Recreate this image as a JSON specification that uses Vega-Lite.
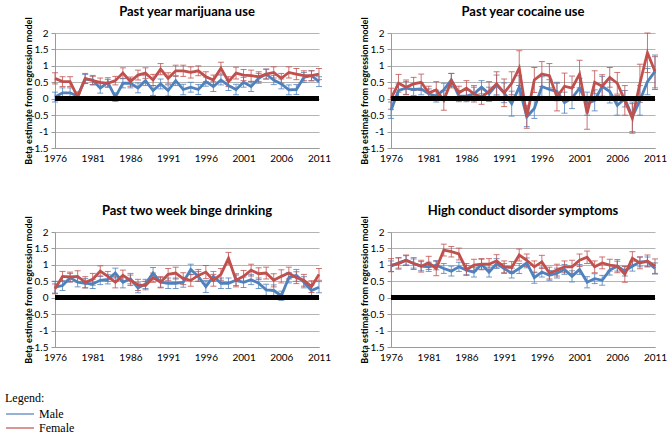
{
"$schema": "https://vega.github.io/schema/vega-lite/v6.json",
"background": "white",
"padding": {"left": 5, "top": 5, "right": 5, "bottom": 5},
"bounds": "flush",
"config": {
 "view": {"stroke": null},
 "font": "Lato",
 "axis": {"labelFont": "Lato", "labelFontSize": 10, "labelColor": "#000", "titleFont": "Lato", "titleFontSize": 9, "titleFontWeight": "bold", "titleColor": "#000", "domainColor": "#9a9a9a", "tickColor": "#9a9a9a", "gridColor": "#b4b4b4"}
},
"data": {"values": [
{"p":"mj","s":"Male","y":1976,"b":0.05,"lo":-0.1,"hi":0.2},
{"p":"mj","s":"Male","y":1977,"b":0.18,"lo":0.03,"hi":0.33},
{"p":"mj","s":"Male","y":1978,"b":0.18,"lo":0.03,"hi":0.33},
{"p":"mj","s":"Male","y":1979,"b":0.08,"lo":-0.05,"hi":0.21},
{"p":"mj","s":"Male","y":1980,"b":0.6,"lo":0.46,"hi":0.74},
{"p":"mj","s":"Male","y":1981,"b":0.57,"lo":0.43,"hi":0.71},
{"p":"mj","s":"Male","y":1982,"b":0.32,"lo":0.17,"hi":0.47},
{"p":"mj","s":"Male","y":1983,"b":0.5,"lo":0.36,"hi":0.64},
{"p":"mj","s":"Male","y":1984,"b":0.05,"lo":-0.08,"hi":0.18},
{"p":"mj","s":"Male","y":1985,"b":0.47,"lo":0.33,"hi":0.61},
{"p":"mj","s":"Male","y":1986,"b":0.47,"lo":0.33,"hi":0.61},
{"p":"mj","s":"Male","y":1987,"b":0.33,"lo":0.18,"hi":0.48},
{"p":"mj","s":"Male","y":1988,"b":0.55,"lo":0.4,"hi":0.7},
{"p":"mj","s":"Male","y":1989,"b":0.25,"lo":0.1,"hi":0.4},
{"p":"mj","s":"Male","y":1990,"b":0.45,"lo":0.3,"hi":0.6},
{"p":"mj","s":"Male","y":1991,"b":0.25,"lo":0.08,"hi":0.42},
{"p":"mj","s":"Male","y":1992,"b":0.55,"lo":0.4,"hi":0.7},
{"p":"mj","s":"Male","y":1993,"b":0.28,"lo":0.12,"hi":0.44},
{"p":"mj","s":"Male","y":1994,"b":0.35,"lo":0.2,"hi":0.5},
{"p":"mj","s":"Male","y":1995,"b":0.28,"lo":0.13,"hi":0.43},
{"p":"mj","s":"Male","y":1996,"b":0.52,"lo":0.38,"hi":0.66},
{"p":"mj","s":"Male","y":1997,"b":0.37,"lo":0.22,"hi":0.52},
{"p":"mj","s":"Male","y":1998,"b":0.57,"lo":0.42,"hi":0.72},
{"p":"mj","s":"Male","y":1999,"b":0.4,"lo":0.25,"hi":0.55},
{"p":"mj","s":"Male","y":2000,"b":0.28,"lo":0.12,"hi":0.44},
{"p":"mj","s":"Male","y":2001,"b":0.5,"lo":0.35,"hi":0.65},
{"p":"mj","s":"Male","y":2002,"b":0.37,"lo":0.22,"hi":0.52},
{"p":"mj","s":"Male","y":2003,"b":0.62,"lo":0.47,"hi":0.77},
{"p":"mj","s":"Male","y":2004,"b":0.75,"lo":0.6,"hi":0.9},
{"p":"mj","s":"Male","y":2005,"b":0.57,"lo":0.43,"hi":0.71},
{"p":"mj","s":"Male","y":2006,"b":0.45,"lo":0.3,"hi":0.6},
{"p":"mj","s":"Male","y":2007,"b":0.27,"lo":0.12,"hi":0.42},
{"p":"mj","s":"Male","y":2008,"b":0.28,"lo":0.13,"hi":0.43},
{"p":"mj","s":"Male","y":2009,"b":0.65,"lo":0.5,"hi":0.8},
{"p":"mj","s":"Male","y":2010,"b":0.7,"lo":0.55,"hi":0.85},
{"p":"mj","s":"Male","y":2011,"b":0.52,"lo":0.37,"hi":0.67},
{"p":"mj","s":"Female","y":1976,"b":0.62,"lo":0.45,"hi":0.79},
{"p":"mj","s":"Female","y":1977,"b":0.52,"lo":0.37,"hi":0.67},
{"p":"mj","s":"Female","y":1978,"b":0.52,"lo":0.37,"hi":0.67},
{"p":"mj","s":"Female","y":1979,"b":0.05,"lo":-0.05,"hi":0.15},
{"p":"mj","s":"Female","y":1980,"b":0.62,"lo":0.47,"hi":0.77},
{"p":"mj","s":"Female","y":1981,"b":0.55,"lo":0.42,"hi":0.68},
{"p":"mj","s":"Female","y":1982,"b":0.5,"lo":0.37,"hi":0.63},
{"p":"mj","s":"Female","y":1983,"b":0.47,"lo":0.35,"hi":0.59},
{"p":"mj","s":"Female","y":1984,"b":0.55,"lo":0.42,"hi":0.68},
{"p":"mj","s":"Female","y":1985,"b":0.78,"lo":0.62,"hi":0.94},
{"p":"mj","s":"Female","y":1986,"b":0.52,"lo":0.38,"hi":0.66},
{"p":"mj","s":"Female","y":1987,"b":0.72,"lo":0.57,"hi":0.87},
{"p":"mj","s":"Female","y":1988,"b":0.78,"lo":0.62,"hi":0.94},
{"p":"mj","s":"Female","y":1989,"b":0.57,"lo":0.4,"hi":0.74},
{"p":"mj","s":"Female","y":1990,"b":0.9,"lo":0.73,"hi":1.07},
{"p":"mj","s":"Female","y":1991,"b":0.62,"lo":0.45,"hi":0.79},
{"p":"mj","s":"Female","y":1992,"b":0.85,"lo":0.68,"hi":1.02},
{"p":"mj","s":"Female","y":1993,"b":0.85,"lo":0.68,"hi":1.02},
{"p":"mj","s":"Female","y":1994,"b":0.8,"lo":0.63,"hi":0.97},
{"p":"mj","s":"Female","y":1995,"b":0.85,"lo":0.7,"hi":1.0},
{"p":"mj","s":"Female","y":1996,"b":0.67,"lo":0.52,"hi":0.82},
{"p":"mj","s":"Female","y":1997,"b":0.57,"lo":0.42,"hi":0.72},
{"p":"mj","s":"Female","y":1998,"b":0.93,"lo":0.75,"hi":1.11},
{"p":"mj","s":"Female","y":1999,"b":0.52,"lo":0.37,"hi":0.67},
{"p":"mj","s":"Female","y":2000,"b":0.78,"lo":0.6,"hi":0.96},
{"p":"mj","s":"Female","y":2001,"b":0.72,"lo":0.55,"hi":0.89},
{"p":"mj","s":"Female","y":2002,"b":0.7,"lo":0.53,"hi":0.87},
{"p":"mj","s":"Female","y":2003,"b":0.67,"lo":0.52,"hi":0.82},
{"p":"mj","s":"Female","y":2004,"b":0.75,"lo":0.6,"hi":0.9},
{"p":"mj","s":"Female","y":2005,"b":0.8,"lo":0.63,"hi":0.97},
{"p":"mj","s":"Female","y":2006,"b":0.62,"lo":0.47,"hi":0.77},
{"p":"mj","s":"Female","y":2007,"b":0.8,"lo":0.63,"hi":0.97},
{"p":"mj","s":"Female","y":2008,"b":0.75,"lo":0.58,"hi":0.92},
{"p":"mj","s":"Female","y":2009,"b":0.7,"lo":0.55,"hi":0.85},
{"p":"mj","s":"Female","y":2010,"b":0.7,"lo":0.55,"hi":0.85},
{"p":"mj","s":"Female","y":2011,"b":0.75,"lo":0.58,"hi":0.92},
{"p":"co","s":"Male","y":1976,"b":-0.35,"lo":-0.6,"hi":-0.1},
{"p":"co","s":"Male","y":1977,"b":0.25,"lo":0.05,"hi":0.45},
{"p":"co","s":"Male","y":1978,"b":0.32,"lo":0.12,"hi":0.52},
{"p":"co","s":"Male","y":1979,"b":0.28,"lo":0.1,"hi":0.46},
{"p":"co","s":"Male","y":1980,"b":0.3,"lo":0.12,"hi":0.48},
{"p":"co","s":"Male","y":1981,"b":0.15,"lo":0.0,"hi":0.3},
{"p":"co","s":"Male","y":1982,"b":0.08,"lo":-0.1,"hi":0.26},
{"p":"co","s":"Male","y":1983,"b":0.27,"lo":0.07,"hi":0.47},
{"p":"co","s":"Male","y":1984,"b":0.57,"lo":0.37,"hi":0.77},
{"p":"co","s":"Male","y":1985,"b":0.08,"lo":-0.09,"hi":0.25},
{"p":"co","s":"Male","y":1986,"b":0.08,"lo":-0.09,"hi":0.25},
{"p":"co","s":"Male","y":1987,"b":0.15,"lo":-0.05,"hi":0.35},
{"p":"co","s":"Male","y":1988,"b":0.35,"lo":0.15,"hi":0.55},
{"p":"co","s":"Male","y":1989,"b":0.15,"lo":-0.05,"hi":0.35},
{"p":"co","s":"Male","y":1990,"b":0.42,"lo":0.12,"hi":0.72},
{"p":"co","s":"Male","y":1991,"b":0.18,"lo":-0.12,"hi":0.48},
{"p":"co","s":"Male","y":1992,"b":-0.15,"lo":-0.53,"hi":0.23},
{"p":"co","s":"Male","y":1993,"b":0.35,"lo":0.0,"hi":0.7},
{"p":"co","s":"Male","y":1994,"b":-0.55,"lo":-0.85,"hi":-0.25},
{"p":"co","s":"Male","y":1995,"b":-0.3,"lo":-0.6,"hi":0.0},
{"p":"co","s":"Male","y":1996,"b":0.37,"lo":0.07,"hi":0.67},
{"p":"co","s":"Male","y":1997,"b":0.28,"lo":-0.02,"hi":0.58},
{"p":"co","s":"Male","y":1998,"b":0.22,"lo":-0.06,"hi":0.5},
{"p":"co","s":"Male","y":1999,"b":-0.12,"lo":-0.44,"hi":0.2},
{"p":"co","s":"Male","y":2000,"b":0.02,"lo":-0.3,"hi":0.34},
{"p":"co","s":"Male","y":2001,"b":0.32,"lo":0.02,"hi":0.62},
{"p":"co","s":"Male","y":2002,"b":-0.15,"lo":-0.5,"hi":0.2},
{"p":"co","s":"Male","y":2003,"b":-0.05,"lo":-0.37,"hi":0.27},
{"p":"co","s":"Male","y":2004,"b":0.38,"lo":0.08,"hi":0.68},
{"p":"co","s":"Male","y":2005,"b":0.22,"lo":-0.13,"hi":0.57},
{"p":"co","s":"Male","y":2006,"b":-0.2,"lo":-0.5,"hi":0.1},
{"p":"co","s":"Male","y":2007,"b":0.0,"lo":-0.25,"hi":0.25},
{"p":"co","s":"Male","y":2008,"b":-0.55,"lo":-1.0,"hi":-0.1},
{"p":"co","s":"Male","y":2009,"b":-0.05,"lo":-0.5,"hi":0.4},
{"p":"co","s":"Male","y":2010,"b":0.52,"lo":0.12,"hi":0.92},
{"p":"co","s":"Male","y":2011,"b":0.83,"lo":0.33,"hi":1.33},
{"p":"co","s":"Female","y":1976,"b":0.0,"lo":-0.32,"hi":0.32},
{"p":"co","s":"Female","y":1977,"b":0.47,"lo":0.2,"hi":0.74},
{"p":"co","s":"Female","y":1978,"b":0.35,"lo":0.13,"hi":0.57},
{"p":"co","s":"Female","y":1979,"b":0.45,"lo":0.25,"hi":0.65},
{"p":"co","s":"Female","y":1980,"b":0.5,"lo":0.25,"hi":0.75},
{"p":"co","s":"Female","y":1981,"b":0.18,"lo":-0.02,"hi":0.38},
{"p":"co","s":"Female","y":1982,"b":0.27,"lo":0.02,"hi":0.52},
{"p":"co","s":"Female","y":1983,"b":-0.05,"lo":-0.35,"hi":0.25},
{"p":"co","s":"Female","y":1984,"b":0.55,"lo":0.33,"hi":0.77},
{"p":"co","s":"Female","y":1985,"b":0.18,"lo":-0.02,"hi":0.38},
{"p":"co","s":"Female","y":1986,"b":0.32,"lo":0.09,"hi":0.55},
{"p":"co","s":"Female","y":1987,"b":0.15,"lo":-0.1,"hi":0.4},
{"p":"co","s":"Female","y":1988,"b":0.05,"lo":-0.17,"hi":0.27},
{"p":"co","s":"Female","y":1989,"b":0.22,"lo":-0.08,"hi":0.52},
{"p":"co","s":"Female","y":1990,"b":0.45,"lo":0.08,"hi":0.82},
{"p":"co","s":"Female","y":1991,"b":0.18,"lo":-0.24,"hi":0.6},
{"p":"co","s":"Female","y":1992,"b":0.47,"lo":0.12,"hi":0.82},
{"p":"co","s":"Female","y":1993,"b":0.93,"lo":0.4,"hi":1.46},
{"p":"co","s":"Female","y":1994,"b":-0.55,"lo":-0.9,"hi":-0.2},
{"p":"co","s":"Female","y":1995,"b":0.57,"lo":0.19,"hi":0.95},
{"p":"co","s":"Female","y":1996,"b":0.75,"lo":0.37,"hi":1.13},
{"p":"co","s":"Female","y":1997,"b":0.7,"lo":0.33,"hi":1.07},
{"p":"co","s":"Female","y":1998,"b":0.05,"lo":-0.37,"hi":0.47},
{"p":"co","s":"Female","y":1999,"b":0.38,"lo":-0.02,"hi":0.78},
{"p":"co","s":"Female","y":2000,"b":0.32,"lo":-0.05,"hi":0.69},
{"p":"co","s":"Female","y":2001,"b":0.75,"lo":0.33,"hi":1.17},
{"p":"co","s":"Female","y":2002,"b":-0.45,"lo":-0.93,"hi":0.03},
{"p":"co","s":"Female","y":2003,"b":0.5,"lo":0.15,"hi":0.85},
{"p":"co","s":"Female","y":2004,"b":0.38,"lo":0.03,"hi":0.73},
{"p":"co","s":"Female","y":2005,"b":0.65,"lo":0.35,"hi":0.95},
{"p":"co","s":"Female","y":2006,"b":0.47,"lo":0.14,"hi":0.8},
{"p":"co","s":"Female","y":2007,"b":-0.05,"lo":-0.5,"hi":0.4},
{"p":"co","s":"Female","y":2008,"b":-0.6,"lo":-1.05,"hi":-0.15},
{"p":"co","s":"Female","y":2009,"b":0.47,"lo":-0.11,"hi":1.05},
{"p":"co","s":"Female","y":2010,"b":1.4,"lo":0.8,"hi":2.0},
{"p":"co","s":"Female","y":2011,"b":0.83,"lo":0.28,"hi":1.28},
{"p":"bi","s":"Male","y":1976,"b":0.32,"lo":0.14,"hi":0.5},
{"p":"bi","s":"Male","y":1977,"b":0.37,"lo":0.22,"hi":0.52},
{"p":"bi","s":"Male","y":1978,"b":0.61,"lo":0.48,"hi":0.74},
{"p":"bi","s":"Male","y":1979,"b":0.47,"lo":0.33,"hi":0.61},
{"p":"bi","s":"Male","y":1980,"b":0.44,"lo":0.3,"hi":0.58},
{"p":"bi","s":"Male","y":1981,"b":0.42,"lo":0.28,"hi":0.56},
{"p":"bi","s":"Male","y":1982,"b":0.53,"lo":0.4,"hi":0.66},
{"p":"bi","s":"Male","y":1983,"b":0.56,"lo":0.42,"hi":0.7},
{"p":"bi","s":"Male","y":1984,"b":0.75,"lo":0.6,"hi":0.9},
{"p":"bi","s":"Male","y":1985,"b":0.47,"lo":0.3,"hi":0.64},
{"p":"bi","s":"Male","y":1986,"b":0.58,"lo":0.42,"hi":0.74},
{"p":"bi","s":"Male","y":1987,"b":0.3,"lo":0.15,"hi":0.45},
{"p":"bi","s":"Male","y":1988,"b":0.42,"lo":0.28,"hi":0.56},
{"p":"bi","s":"Male","y":1989,"b":0.75,"lo":0.58,"hi":0.92},
{"p":"bi","s":"Male","y":1990,"b":0.47,"lo":0.32,"hi":0.62},
{"p":"bi","s":"Male","y":1991,"b":0.44,"lo":0.28,"hi":0.6},
{"p":"bi","s":"Male","y":1992,"b":0.44,"lo":0.28,"hi":0.6},
{"p":"bi","s":"Male","y":1993,"b":0.47,"lo":0.32,"hi":0.62},
{"p":"bi","s":"Male","y":1994,"b":0.86,"lo":0.7,"hi":1.02},
{"p":"bi","s":"Male","y":1995,"b":0.65,"lo":0.5,"hi":0.8},
{"p":"bi","s":"Male","y":1996,"b":0.34,"lo":0.16,"hi":0.52},
{"p":"bi","s":"Male","y":1997,"b":0.65,"lo":0.5,"hi":0.8},
{"p":"bi","s":"Male","y":1998,"b":0.44,"lo":0.28,"hi":0.6},
{"p":"bi","s":"Male","y":1999,"b":0.44,"lo":0.28,"hi":0.6},
{"p":"bi","s":"Male","y":2000,"b":0.53,"lo":0.37,"hi":0.69},
{"p":"bi","s":"Male","y":2001,"b":0.47,"lo":0.31,"hi":0.63},
{"p":"bi","s":"Male","y":2002,"b":0.55,"lo":0.4,"hi":0.7},
{"p":"bi","s":"Male","y":2003,"b":0.44,"lo":0.28,"hi":0.6},
{"p":"bi","s":"Male","y":2004,"b":0.24,"lo":0.07,"hi":0.41},
{"p":"bi","s":"Male","y":2005,"b":0.22,"lo":0.05,"hi":0.39},
{"p":"bi","s":"Male","y":2006,"b":0.06,"lo":-0.08,"hi":0.2},
{"p":"bi","s":"Male","y":2007,"b":0.61,"lo":0.45,"hi":0.77},
{"p":"bi","s":"Male","y":2008,"b":0.68,"lo":0.5,"hi":0.86},
{"p":"bi","s":"Male","y":2009,"b":0.47,"lo":0.3,"hi":0.64},
{"p":"bi","s":"Male","y":2010,"b":0.22,"lo":0.05,"hi":0.39},
{"p":"bi","s":"Male","y":2011,"b":0.32,"lo":0.15,"hi":0.49},
{"p":"bi","s":"Female","y":1976,"b":0.27,"lo":0.12,"hi":0.42},
{"p":"bi","s":"Female","y":1977,"b":0.65,"lo":0.5,"hi":0.8},
{"p":"bi","s":"Female","y":1978,"b":0.63,"lo":0.48,"hi":0.78},
{"p":"bi","s":"Female","y":1979,"b":0.65,"lo":0.48,"hi":0.82},
{"p":"bi","s":"Female","y":1980,"b":0.47,"lo":0.3,"hi":0.64},
{"p":"bi","s":"Female","y":1981,"b":0.56,"lo":0.38,"hi":0.74},
{"p":"bi","s":"Female","y":1982,"b":0.81,"lo":0.65,"hi":0.97},
{"p":"bi","s":"Female","y":1983,"b":0.65,"lo":0.5,"hi":0.8},
{"p":"bi","s":"Female","y":1984,"b":0.47,"lo":0.3,"hi":0.64},
{"p":"bi","s":"Female","y":1985,"b":0.68,"lo":0.52,"hi":0.84},
{"p":"bi","s":"Female","y":1986,"b":0.53,"lo":0.37,"hi":0.69},
{"p":"bi","s":"Female","y":1987,"b":0.39,"lo":0.22,"hi":0.56},
{"p":"bi","s":"Female","y":1988,"b":0.37,"lo":0.24,"hi":0.5},
{"p":"bi","s":"Female","y":1989,"b":0.61,"lo":0.47,"hi":0.75},
{"p":"bi","s":"Female","y":1990,"b":0.47,"lo":0.3,"hi":0.64},
{"p":"bi","s":"Female","y":1991,"b":0.71,"lo":0.53,"hi":0.89},
{"p":"bi","s":"Female","y":1992,"b":0.75,"lo":0.57,"hi":0.93},
{"p":"bi","s":"Female","y":1993,"b":0.58,"lo":0.4,"hi":0.76},
{"p":"bi","s":"Female","y":1994,"b":0.53,"lo":0.35,"hi":0.71},
{"p":"bi","s":"Female","y":1995,"b":0.68,"lo":0.5,"hi":0.86},
{"p":"bi","s":"Female","y":1996,"b":0.78,"lo":0.58,"hi":0.98},
{"p":"bi","s":"Female","y":1997,"b":0.53,"lo":0.35,"hi":0.71},
{"p":"bi","s":"Female","y":1998,"b":0.71,"lo":0.53,"hi":0.89},
{"p":"bi","s":"Female","y":1999,"b":1.2,"lo":1.02,"hi":1.38},
{"p":"bi","s":"Female","y":2000,"b":0.53,"lo":0.33,"hi":0.73},
{"p":"bi","s":"Female","y":2001,"b":0.65,"lo":0.47,"hi":0.83},
{"p":"bi","s":"Female","y":2002,"b":0.84,"lo":0.66,"hi":1.02},
{"p":"bi","s":"Female","y":2003,"b":0.73,"lo":0.55,"hi":0.91},
{"p":"bi","s":"Female","y":2004,"b":0.75,"lo":0.57,"hi":0.93},
{"p":"bi","s":"Female","y":2005,"b":0.53,"lo":0.33,"hi":0.73},
{"p":"bi","s":"Female","y":2006,"b":0.65,"lo":0.45,"hi":0.85},
{"p":"bi","s":"Female","y":2007,"b":0.75,"lo":0.57,"hi":0.93},
{"p":"bi","s":"Female","y":2008,"b":0.61,"lo":0.43,"hi":0.79},
{"p":"bi","s":"Female","y":2009,"b":0.53,"lo":0.35,"hi":0.71},
{"p":"bi","s":"Female","y":2010,"b":0.34,"lo":0.16,"hi":0.52},
{"p":"bi","s":"Female","y":2011,"b":0.71,"lo":0.53,"hi":0.89},
{"p":"cd","s":"Male","y":1976,"b":0.96,"lo":0.8,"hi":1.12},
{"p":"cd","s":"Male","y":1977,"b":1.06,"lo":0.9,"hi":1.22},
{"p":"cd","s":"Male","y":1978,"b":1.14,"lo":1.0,"hi":1.28},
{"p":"cd","s":"Male","y":1979,"b":1.04,"lo":0.9,"hi":1.18},
{"p":"cd","s":"Male","y":1980,"b":0.96,"lo":0.82,"hi":1.1},
{"p":"cd","s":"Male","y":1981,"b":0.94,"lo":0.8,"hi":1.08},
{"p":"cd","s":"Male","y":1982,"b":0.99,"lo":0.85,"hi":1.13},
{"p":"cd","s":"Male","y":1983,"b":0.89,"lo":0.74,"hi":1.04},
{"p":"cd","s":"Male","y":1984,"b":0.81,"lo":0.66,"hi":0.96},
{"p":"cd","s":"Male","y":1985,"b":0.94,"lo":0.8,"hi":1.08},
{"p":"cd","s":"Male","y":1986,"b":0.84,"lo":0.7,"hi":0.98},
{"p":"cd","s":"Male","y":1987,"b":0.78,"lo":0.63,"hi":0.93},
{"p":"cd","s":"Male","y":1988,"b":1.02,"lo":0.87,"hi":1.17},
{"p":"cd","s":"Male","y":1989,"b":0.78,"lo":0.63,"hi":0.93},
{"p":"cd","s":"Male","y":1990,"b":1.04,"lo":0.89,"hi":1.19},
{"p":"cd","s":"Male","y":1991,"b":0.89,"lo":0.74,"hi":1.04},
{"p":"cd","s":"Male","y":1992,"b":0.75,"lo":0.6,"hi":0.9},
{"p":"cd","s":"Male","y":1993,"b":0.89,"lo":0.74,"hi":1.04},
{"p":"cd","s":"Male","y":1994,"b":1.06,"lo":0.91,"hi":1.21},
{"p":"cd","s":"Male","y":1995,"b":0.61,"lo":0.44,"hi":0.78},
{"p":"cd","s":"Male","y":1996,"b":0.78,"lo":0.63,"hi":0.93},
{"p":"cd","s":"Male","y":1997,"b":0.68,"lo":0.53,"hi":0.83},
{"p":"cd","s":"Male","y":1998,"b":0.75,"lo":0.6,"hi":0.9},
{"p":"cd","s":"Male","y":1999,"b":0.86,"lo":0.71,"hi":1.01},
{"p":"cd","s":"Male","y":2000,"b":0.65,"lo":0.48,"hi":0.82},
{"p":"cd","s":"Male","y":2001,"b":0.86,"lo":0.71,"hi":1.01},
{"p":"cd","s":"Male","y":2002,"b":0.47,"lo":0.3,"hi":0.64},
{"p":"cd","s":"Male","y":2003,"b":0.58,"lo":0.43,"hi":0.73},
{"p":"cd","s":"Male","y":2004,"b":0.53,"lo":0.38,"hi":0.68},
{"p":"cd","s":"Male","y":2005,"b":0.84,"lo":0.69,"hi":0.99},
{"p":"cd","s":"Male","y":2006,"b":0.96,"lo":0.81,"hi":1.11},
{"p":"cd","s":"Male","y":2007,"b":0.81,"lo":0.66,"hi":0.96},
{"p":"cd","s":"Male","y":2008,"b":0.96,"lo":0.81,"hi":1.11},
{"p":"cd","s":"Male","y":2009,"b":1.09,"lo":0.94,"hi":1.24},
{"p":"cd","s":"Male","y":2010,"b":1.09,"lo":0.94,"hi":1.24},
{"p":"cd","s":"Male","y":2011,"b":0.89,"lo":0.72,"hi":1.06},
{"p":"cd","s":"Female","y":1976,"b":0.99,"lo":0.79,"hi":1.19},
{"p":"cd","s":"Female","y":1977,"b":1.04,"lo":0.87,"hi":1.21},
{"p":"cd","s":"Female","y":1978,"b":1.14,"lo":0.98,"hi":1.3},
{"p":"cd","s":"Female","y":1979,"b":1.04,"lo":0.86,"hi":1.22},
{"p":"cd","s":"Female","y":1980,"b":0.96,"lo":0.78,"hi":1.14},
{"p":"cd","s":"Female","y":1981,"b":1.06,"lo":0.86,"hi":1.26},
{"p":"cd","s":"Female","y":1982,"b":0.89,"lo":0.67,"hi":1.11},
{"p":"cd","s":"Female","y":1983,"b":1.45,"lo":1.27,"hi":1.63},
{"p":"cd","s":"Female","y":1984,"b":1.4,"lo":1.24,"hi":1.56},
{"p":"cd","s":"Female","y":1985,"b":1.33,"lo":1.15,"hi":1.51},
{"p":"cd","s":"Female","y":1986,"b":0.86,"lo":0.68,"hi":1.04},
{"p":"cd","s":"Female","y":1987,"b":0.99,"lo":0.81,"hi":1.17},
{"p":"cd","s":"Female","y":1988,"b":1.02,"lo":0.85,"hi":1.19},
{"p":"cd","s":"Female","y":1989,"b":1.02,"lo":0.85,"hi":1.19},
{"p":"cd","s":"Female","y":1990,"b":1.12,"lo":0.93,"hi":1.31},
{"p":"cd","s":"Female","y":1991,"b":0.94,"lo":0.76,"hi":1.12},
{"p":"cd","s":"Female","y":1992,"b":0.92,"lo":0.74,"hi":1.1},
{"p":"cd","s":"Female","y":1993,"b":1.3,"lo":1.12,"hi":1.48},
{"p":"cd","s":"Female","y":1994,"b":1.14,"lo":0.95,"hi":1.33},
{"p":"cd","s":"Female","y":1995,"b":0.94,"lo":0.76,"hi":1.12},
{"p":"cd","s":"Female","y":1996,"b":1.09,"lo":0.89,"hi":1.29},
{"p":"cd","s":"Female","y":1997,"b":0.75,"lo":0.57,"hi":0.93},
{"p":"cd","s":"Female","y":1998,"b":0.84,"lo":0.66,"hi":1.02},
{"p":"cd","s":"Female","y":1999,"b":0.94,"lo":0.76,"hi":1.12},
{"p":"cd","s":"Female","y":2000,"b":0.94,"lo":0.74,"hi":1.14},
{"p":"cd","s":"Female","y":2001,"b":1.14,"lo":0.95,"hi":1.33},
{"p":"cd","s":"Female","y":2002,"b":1.23,"lo":1.04,"hi":1.42},
{"p":"cd","s":"Female","y":2003,"b":0.94,"lo":0.76,"hi":1.12},
{"p":"cd","s":"Female","y":2004,"b":1.06,"lo":0.88,"hi":1.24},
{"p":"cd","s":"Female","y":2005,"b":0.99,"lo":0.81,"hi":1.17},
{"p":"cd","s":"Female","y":2006,"b":0.96,"lo":0.76,"hi":1.16},
{"p":"cd","s":"Female","y":2007,"b":0.71,"lo":0.47,"hi":0.95},
{"p":"cd","s":"Female","y":2008,"b":1.2,"lo":1.0,"hi":1.4},
{"p":"cd","s":"Female","y":2009,"b":1.06,"lo":0.88,"hi":1.24},
{"p":"cd","s":"Female","y":2010,"b":1.12,"lo":0.94,"hi":1.3},
{"p":"cd","s":"Female","y":2011,"b":0.96,"lo":0.74,"hi":1.18}
]},
"facet": {
 "field": "p", "type": "nominal", "sort": ["mj", "co", "bi", "cd"],
 "header": {"title": null, "labelFont": "Lato", "labelFontSize": 13, "labelFontWeight": "bold", "labelColor": "#000", "labelPadding": -2,
  "labelExpr": "{'mj': 'Past year marijuana use', 'co': 'Past year cocaine use', 'bi': 'Past two week binge drinking', 'cd': 'High conduct disorder symptoms'}[datum.value]"}
},
"columns": 2,
"spacing": {"row": 84, "column": 72},
"resolve": {"axis": {"x": "independent", "y": "independent"}},
"spec": {
 "width": 264,
 "height": 115,
 "layer": [
  {"mark": {"type": "errorbar", "ticks": true, "thickness": 1, "size": 6, "opacity": 0.8},
   "encoding": {
    "x": {"field": "y", "type": "quantitative", "scale": {"domain": [1976, 2011], "nice": false, "zero": false},
     "axis": {"title": null, "values": [1976, 1981, 1986, 1991, 1996, 2001, 2006, 2011], "format": "d", "grid": false, "ticks": false, "labelPadding": 5, "labelFlush": false, "labelOverlap": false}},
    "y": {"field": "lo", "type": "quantitative", "scale": {"domain": [-1.5, 2], "nice": false, "zero": false},
     "axis": {"title": "Beta estimate from regression model", "values": [-1.5, -1, -0.5, 0, 0.5, 1, 1.5, 2], "labelExpr": "'' + datum.value", "grid": true, "tickSize": 4, "labelPadding": 3, "titlePadding": -3}},
    "y2": {"field": "hi"},
    "color": {"field": "s", "type": "nominal", "scale": {"domain": ["Male", "Female"], "range": ["#4F81BD", "#C0504D"]},
     "legend": {"title": "Legend:", "orient": "none", "legendX": -50, "legendY": 360, "direction": "vertical", "symbolType": "stroke", "symbolSize": 784, "symbolStrokeWidth": 1.5, "clipHeight": 14, "labelFont": "Liberation Serif", "labelFontSize": 12, "labelColor": "#000", "titleFont": "Liberation Serif", "titleFontSize": 12, "titleFontWeight": "normal", "titleColor": "#000", "titlePadding": 2, "rowPadding": 0}}
   }},
  {"mark": {"type": "line", "strokeWidth": 2.8},
   "encoding": {
    "x": {"field": "y", "type": "quantitative", "scale": {"domain": [1976, 2011], "nice": false, "zero": false},
     "axis": {"title": null, "values": [1976, 1981, 1986, 1991, 1996, 2001, 2006, 2011], "format": "d", "grid": false, "ticks": false, "labelPadding": 5, "labelFlush": false, "labelOverlap": false}},
    "y": {"field": "b", "type": "quantitative", "scale": {"domain": [-1.5, 2], "nice": false, "zero": false},
     "axis": {"title": "Beta estimate from regression model", "values": [-1.5, -1, -0.5, 0, 0.5, 1, 1.5, 2], "labelExpr": "'' + datum.value", "grid": true, "tickSize": 4, "labelPadding": 3, "titlePadding": -3}},
    "color": {"field": "s", "type": "nominal", "scale": {"domain": ["Male", "Female"], "range": ["#4F81BD", "#C0504D"]},
     "legend": {"title": "Legend:", "orient": "none", "legendX": -50, "legendY": 360, "direction": "vertical", "symbolType": "stroke", "symbolSize": 784, "symbolStrokeWidth": 1.5, "clipHeight": 14, "labelFont": "Liberation Serif", "labelFontSize": 12, "labelColor": "#000", "titleFont": "Liberation Serif", "titleFontSize": 12, "titleFontWeight": "normal", "titleColor": "#000", "titlePadding": 2, "rowPadding": 0}}
   }},
  {"mark": {"type": "rule", "color": "black", "strokeWidth": 4},
   "encoding": {"y": {"datum": 0, "type": "quantitative", "scale": {"domain": [-1.5, 2], "nice": false, "zero": false},
     "axis": {"title": "Beta estimate from regression model", "values": [-1.5, -1, -0.5, 0, 0.5, 1, 1.5, 2], "labelExpr": "'' + datum.value", "grid": true, "tickSize": 4, "labelPadding": 3, "titlePadding": -3}}}}
 ]
}
}
